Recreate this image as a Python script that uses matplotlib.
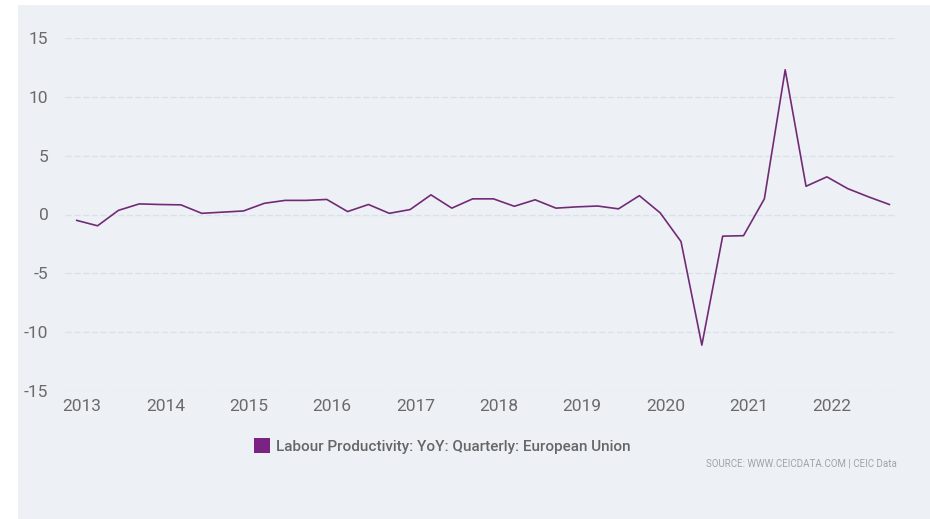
import numpy as np
import pandas as pd
import matplotlib.pyplot as plt
from matplotlib.patches import Rectangle, Patch

# Labour Productivity YoY, quarterly, 2012Q4 .. 2022Q3
quarters = pd.period_range('2012Q4', periods=40, freq='Q')
values = [-0.5, -0.96, 0.35, 0.9, 0.85, 0.82, 0.1, 0.2, 0.3, 0.95,
          1.2, 1.2, 1.28, 0.25, 0.85, 0.1, 0.42, 1.67, 0.54, 1.33,
          1.33, 0.7, 1.25, 0.54, 0.65, 0.72, 0.48, 1.6, 0.14, -2.3,
          -11.1, -1.84, -1.8, 1.33, 12.3, 2.4, 3.2, 2.2, 1.5, 0.85]
years = list(range(2013, 2023))
yticks = [-15, -10, -5, 0, 5, 10, 15]
series_name = 'Labour Productivity: YoY: Quarterly: European Union'
source = 'SOURCE: WWW.CEICDATA.COM | CEIC Data'

# x position: a little after the start of the last month of each quarter
x = np.array([q.year + (q.quarter * 3 - 1) / 12 + 0.02 for q in quarters])

plt.rcParams['font.family'] = ['Roboto', 'DejaVu Sans']
plt.rcParams['axes.unicode_minus'] = False

fig = plt.figure(figsize=(9.3, 5.19), dpi=100)
fig.patch.set_facecolor('white')
fig.patches.append(Rectangle((18 / 930, 0), 1 - 18 / 930, 1 - 5 / 519,
                             transform=fig.transFigure, facecolor='#edf1f6',
                             edgecolor='none', zorder=-10))

ax = fig.add_axes([65 / 930, 1 - 391 / 519, 831 / 930, 353 / 519])
ax.set_facecolor('none')
ax.plot(x, values, color='#712b76', lw=1.2, zorder=3)

ax.set_xlim(2013 - 17 / 83.35, 2013 + 814 / 83.35)
ax.set_ylim(-15, 15)
ax.set_xticks(years)
ax.set_xticklabels([str(y) for y in years])
ax.set_yticks(yticks)
ax.tick_params(axis='both', length=0, labelsize=12.5, colors='#6a6a6a')
ax.tick_params(axis='y', pad=12)
ax.tick_params(axis='x', pad=6)
for s in ax.spines.values():
    s.set_visible(False)
ax.grid(axis='y', color='#dce1e7', lw=0.9, linestyle=(0, (5, 2)))
ax.set_axisbelow(True)

handle = Patch(facecolor='#7b2383', edgecolor='none')
fig.legend([handle], [series_name], loc='center', bbox_to_anchor=(442 / 930, 1 - 446 / 519),
           frameon=False, handlelength=1.1, handleheight=1.1, handletextpad=0.35,
           prop={'size': 11, 'weight': 'medium'}, labelcolor='#666666')

fig.text(897 / 930, 1 - 464 / 519, source, ha='right', va='center', fontsize=7, color='#a0a4a8')

fig.savefig('out.png', dpi=100)
